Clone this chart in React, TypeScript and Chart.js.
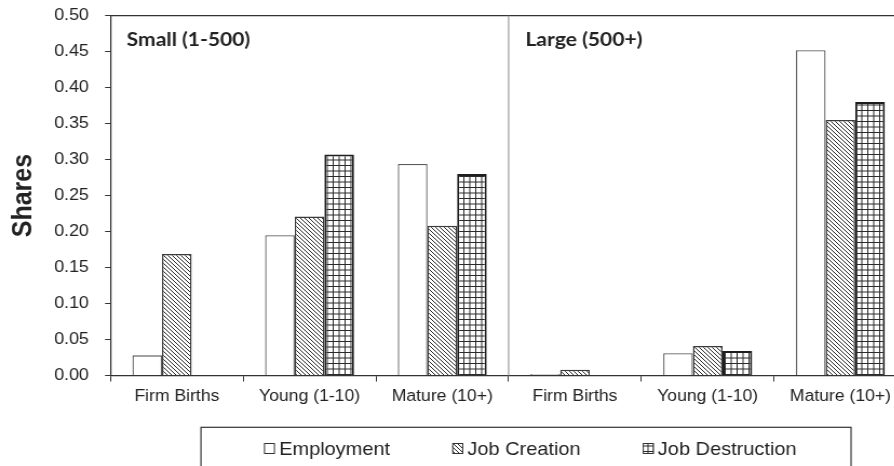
import React, { useEffect, useRef } from 'react';
import { Chart, registerables } from 'chart.js';

Chart.register(...registerables);

const categories = ['Firm Births', 'Young (1-10)', 'Mature (10+)', 'Firm Births', 'Young (1-10)', 'Mature (10+)'];
const seriesNames = ['Employment', 'Job Creation', 'Job Destruction'];
const employment = [0.028, 0.195, 0.294, 0.002, 0.031, 0.452];
const jobCreation = [0.169, 0.221, 0.208, 0.008, 0.041, 0.355];
const jobDestruction = [0, 0.307, 0.280, 0, 0.034, 0.380];
const panelLabels = ['Small (1-500)', 'Large (500+)'];
const yAxisTitle = 'Shares';
const yMin = 0;
const yMax = 0.5;
const yStep = 0.05;

const SX = 1.08; // horizontal stretch of the reference picture
const FONT = "'Liberation Sans', Arial, sans-serif";

function makeHatch(ctx: CanvasRenderingContext2D): CanvasPattern {
  const c = document.createElement('canvas');
  c.width = 4;
  c.height = 4;
  const g = c.getContext('2d')!;
  g.fillStyle = '#ffffff';
  g.fillRect(0, 0, 4, 4);
  g.strokeStyle = '#2a2a2a';
  g.lineWidth = 1;
  g.beginPath();
  g.moveTo(-1, -1); g.lineTo(5, 5);
  g.moveTo(3, -1); g.lineTo(5, 1);
  g.moveTo(-1, 3); g.lineTo(1, 5);
  g.stroke();
  return ctx.createPattern(c, 'repeat')!;
}

function makeGrid(ctx: CanvasRenderingContext2D): CanvasPattern {
  const c = document.createElement('canvas');
  c.width = 11;
  c.height = 11;
  const g = c.getContext('2d')!;
  g.fillStyle = '#ffffff';
  g.fillRect(0, 0, 11, 11);
  g.strokeStyle = '#2a2a2a';
  g.lineWidth = 1;
  g.beginPath();
  g.moveTo(0.5, 0); g.lineTo(0.5, 11);
  g.moveTo(6, 0); g.lineTo(6, 11);
  g.moveTo(0, 0.5); g.lineTo(11, 0.5);
  g.moveTo(0, 6); g.lineTo(11, 6);
  g.stroke();
  return ctx.createPattern(c, 'repeat')!;
}

const decorPlugin = {
  id: 'decor',
  afterDatasetsDraw(chart: any) {
    const { ctx, chartArea: a } = chart;
    const n = categories.length;
    const catW = (a.right - a.left) / n;
    const divX = a.left + 3 * catW;
    ctx.save();
    // frame top/right
    ctx.strokeStyle = '#333';
    ctx.lineWidth = 1.2;
    ctx.beginPath();
    ctx.moveTo(a.left, a.top);
    ctx.lineTo(a.right, a.top);
    ctx.lineTo(a.right, a.bottom);
    ctx.stroke();
    // divider between panels
    ctx.strokeStyle = '#9a9a9a';
    ctx.lineWidth = 1.2;
    ctx.beginPath();
    ctx.moveTo(divX, a.top);
    ctx.lineTo(divX, a.bottom);
    ctx.stroke();
    // panel labels
    ctx.fillStyle = '#222';
    ctx.font = "bold 19.5px Lato, 'Open Sans', sans-serif";
    ctx.textBaseline = 'alphabetic';
    ctx.textAlign = 'left';
    ctx.fillText(panelLabels[0], a.left + 15, a.top + 30.5);
    ctx.fillText(panelLabels[1], divX + 15.5, a.top + 30.5);

    // legend frame
    ctx.strokeStyle = '#333';
    ctx.lineWidth = 1.2;
    ctx.strokeRect(186.1, 427.3, 788 - 186.1, 80);
    // legend items
    ctx.font = `18.5px ${FONT}`;
    let x = 244.4;
    const boxW = 10.2;
    const boxH = 11;
    const boxTop = 443;
    const baseline = 455;
    chart.data.datasets.forEach((ds: any, i: number) => {
      ctx.fillStyle = ds.backgroundColor;
      ctx.fillRect(x, boxTop, boxW, boxH);
      ctx.strokeStyle = '#333';
      ctx.lineWidth = 1;
      ctx.strokeRect(x + 0.5, boxTop + 0.5, boxW - 1, boxH - 1);
      const tx = x + boxW + 3.8;
      ctx.fillStyle = '#222';
      ctx.fillText(seriesNames[i], tx, baseline);
      x = tx + ctx.measureText(seriesNames[i]).width + 57.5;
    });
    ctx.restore();
  },
};

export default function App() {
  const canvasRef = useRef<HTMLCanvasElement | null>(null);

  useEffect(() => {
    const canvas = canvasRef.current!;
    const ctx = canvas.getContext('2d')!;
    const hatch = makeHatch(ctx);
    const grid = makeGrid(ctx);
    const chart = new Chart(canvas, {
      type: 'bar',
      data: {
        labels: categories,
        datasets: [
          { label: seriesNames[0], data: employment, backgroundColor: '#ffffff', borderColor: '#5a5a5a', borderWidth: 1.3 },
          { label: seriesNames[1], data: jobCreation, backgroundColor: hatch as any, borderColor: '#3a3a3a', borderWidth: 1.5 },
          { label: seriesNames[2], data: jobDestruction, backgroundColor: grid as any, borderColor: '#1e1e1e', borderWidth: 2 },
        ],
      },
      options: {
        responsive: false,
        animation: false,
        devicePixelRatio: 1,
        layout: { padding: { left: 0, right: 5.4, top: 15.7, bottom: 84.5 } },
        datasets: { bar: { categoryPercentage: 0.67, barPercentage: 1.0 } },
        plugins: { legend: { display: false }, tooltip: { enabled: false } },
        scales: {
          x: {
            offset: true,
            grid: { drawOnChartArea: false, drawTicks: true, tickLength: 6, color: '#333', offset: true },
            border: { display: true, color: '#333', width: 1.2 },
            ticks: { color: '#222', font: { family: FONT, size: 16.3 }, padding: 5.5, maxRotation: 0, autoSkip: false },
            afterFit: (s: any) => { s.height = 40; s.paddingLeft = 0; s.paddingRight = 0; },
          },
          y: {
            min: yMin,
            max: yMax,
            grid: { drawOnChartArea: false, drawTicks: true, tickLength: 5, color: '#333' },
            border: { display: true, color: '#333', width: 1.2 },
            ticks: {
              stepSize: yStep,
              color: '#222',
              font: { family: FONT, size: 16.5 },
              padding: 15,
              callback: (v: any) => Number(v).toFixed(2),
            },
            title: {
              display: true,
              text: yAxisTitle,
              color: '#222',
              font: { family: FONT, size: 25, weight: 'bold' },
              padding: { top: 7, bottom: 0 },
            },
            afterFit: (s: any) => { s.width = 102.3; s.paddingTop = 0; s.paddingBottom = 0; },
          },
        },
      },
      plugins: [decorPlugin],
    });
    return () => chart.destroy();
  }, []);

  return (
    <div style={{ position: 'fixed', left: 0, top: 0, width: 894, height: 466, overflow: 'hidden', background: '#fff' }}>
      <div style={{ transform: `scaleX(${SX})`, transformOrigin: '0 0', width: 845, height: 500 }}>
        <canvas ref={canvasRef} width={845} height={500} style={{ display: 'block' }} />
      </div>
    </div>
  );
}
